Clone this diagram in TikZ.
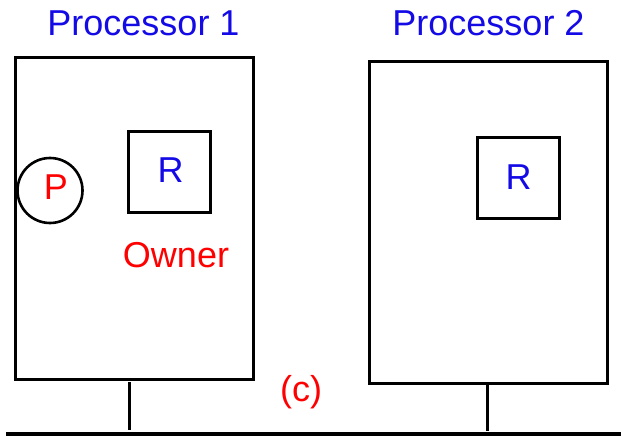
\documentclass[tikz,border=0pt]{standalone}
\usepackage{fontspec}
\setmainfont{Liberation Sans}
\definecolor{lblue}{RGB}{20,10,230}
\definecolor{lred}{RGB}{255,0,0}
\begin{document}
\begin{tikzpicture}[x=1pt,y=-1pt,
  box/.style={draw=black,line width=3pt,inner sep=0pt},
  lbl/.style={font=\fontsize{36}{40}\selectfont,inner sep=0pt,anchor=base},
  wire/.style={line width=3pt}]
\useasboundingbox (0,0) rectangle (621,436);
% processor boxes
\node[box,minimum width=238pt,minimum height=321pt] (p1) at (134,218.5) {};
\node[box,minimum width=238pt,minimum height=321pt] (p2) at (488,222.5) {};
% resource boxes
\node[box,minimum width=82pt,minimum height=81pt] (r1) at (169,171.5) {};
\node[box,minimum width=82pt,minimum height=81pt] (r2) at (518,177.5) {};
% process circle
\node[draw=black,line width=2.6pt,circle,minimum size=65pt,inner sep=0pt] (pc) at (50,190.5) {};
% labels
\node[lbl,text=lblue] (t1) at (143.5,36) {Processor 1};
\node[lbl,text=lblue] (t2) at (488.5,36) {Processor 2};
\node[lbl,text=lblue] (rl1) at (170.5,182.5) {R};
\node[lbl,text=lblue] (rl2) at (518.5,189) {R};
\node[lbl,text=lred] (pl) at (56,199) {P};
\node[lbl,text=lred] (own) at (176,267) {Owner};
\node[lbl,text=lred] (cl) at (301,401) {(c)};
% bus connections
\coordinate (c1a) at (129.5,382);
\coordinate (c1b) at (129.5,430);
\coordinate (c2a) at (487.7,383);
\coordinate (c2b) at (487.7,431);
\coordinate (busl) at (6,434);
\coordinate (busr) at (621,434);
\draw[wire] (c1a) -- (c1b);
\draw[wire] (c2a) -- (c2b);
\draw[line width=3.2pt] (busl) -- (busr);
\end{tikzpicture}
\end{document}
